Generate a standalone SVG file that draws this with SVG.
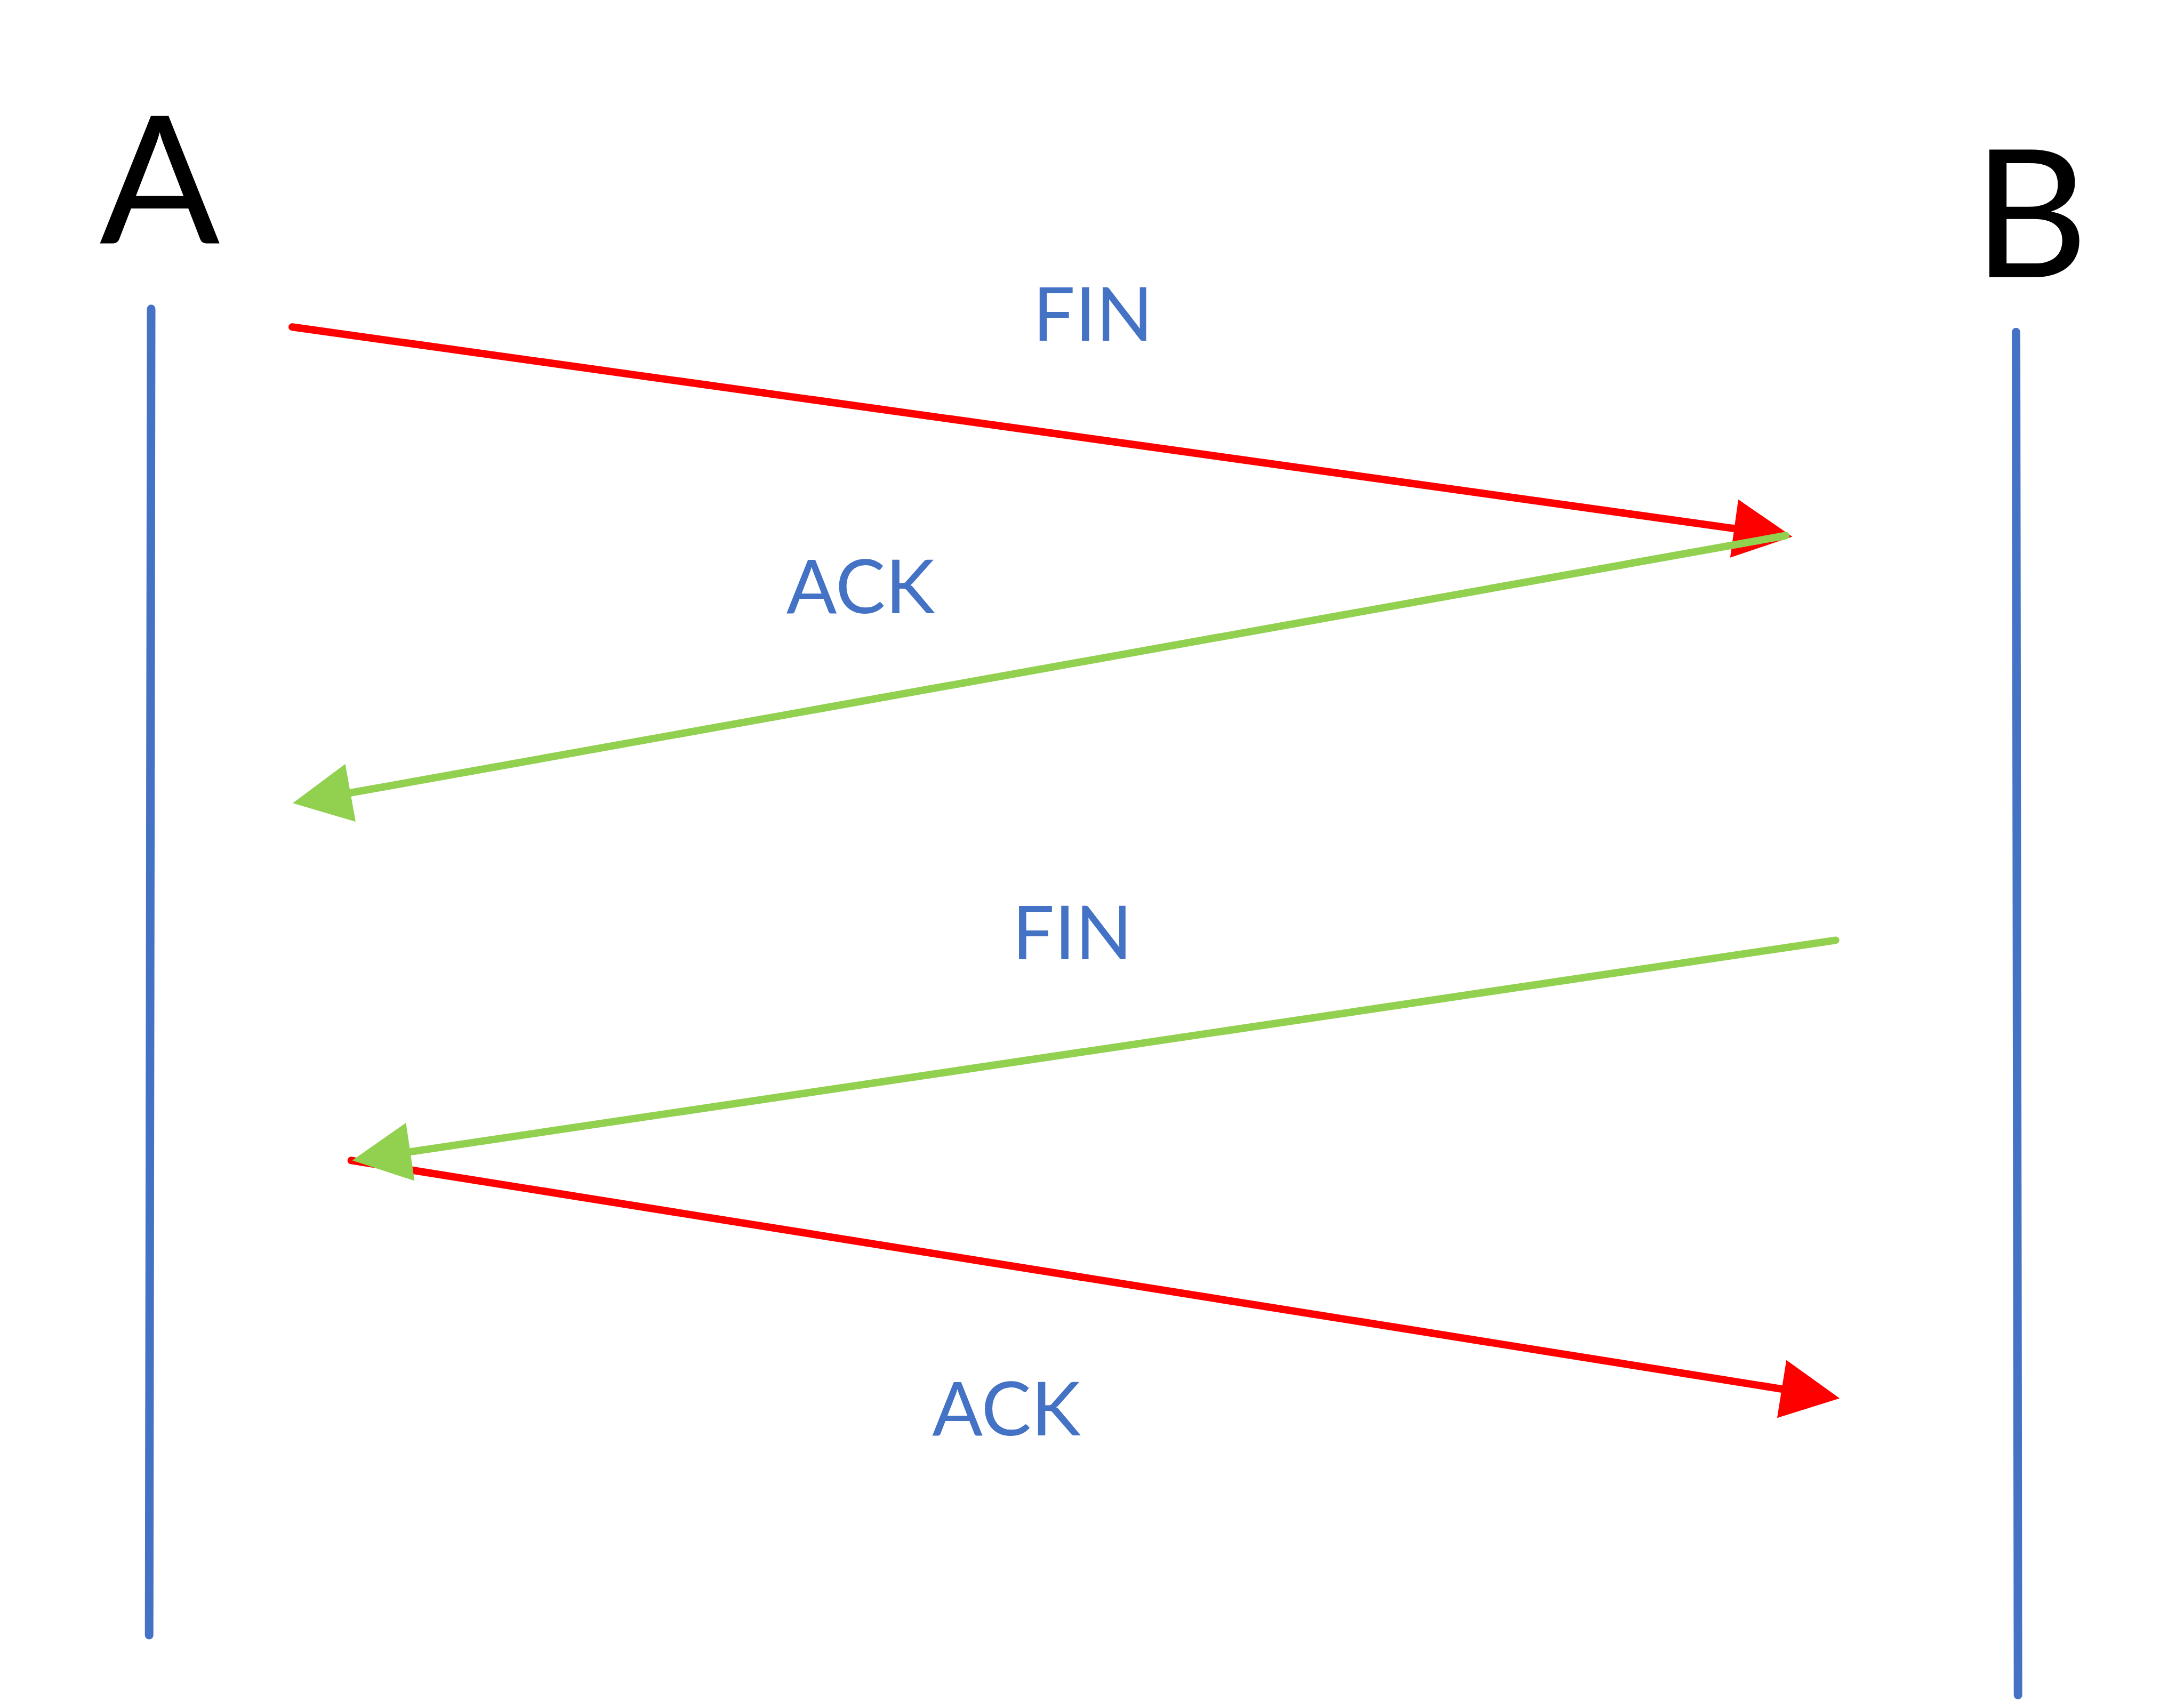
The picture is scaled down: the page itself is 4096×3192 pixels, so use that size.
<svg xmlns="http://www.w3.org/2000/svg" width="4096" height="3192" viewBox="0 0 4096 3192">
  <style>
    .life { stroke: #4472C4; stroke-width: 16; stroke-linecap: round; fill: none; }
    .msg { stroke-width: 14; stroke-linecap: round; fill: none; }
    .red { stroke: #FF0000; }
    .green { stroke: #92D050; }
    .title { font-family: Lato, "Open Sans", "Liberation Sans", sans-serif; font-size: 334px; fill: #000000; text-anchor: middle; }
    .lbl { font-family: Lato, "Open Sans", "Liberation Sans", sans-serif; font-size: 140px; fill: #4472C4; text-anchor: middle; }
  </style>
  <defs>
    <marker id="arrRed" markerUnits="userSpaceOnUse" markerWidth="120" markerHeight="120" refX="10" refY="55" orient="auto" overflow="visible">
      <path d="M0,0 L110,55 L0,110 z" fill="#FF0000"/>
    </marker>
    <marker id="arrGreen" markerUnits="userSpaceOnUse" markerWidth="120" markerHeight="120" refX="10" refY="55" orient="auto" overflow="visible">
      <path d="M0,0 L110,55 L0,110 z" fill="#92D050"/>
    </marker>
  </defs>
  <rect x="0" y="0" width="4096" height="3192" fill="#FFFFFF"/>

  <g id="nodeA">
    <text class="title" x="299.6" y="456.4">A</text>
    <line class="life" x1="283.5" y1="579.3" x2="279.7" y2="3066.5"/>
  </g>
  <g id="nodeB">
    <text class="title" x="3808.4" y="519.8">B</text>
    <line class="life" x1="3781" y1="622.8" x2="3784.7" y2="3179"/>
  </g>

  <g id="connectors">
    <line id="fin1" class="msg red" x1="548.1" y1="613.3" x2="3262.4" y2="992.6" marker-end="url(#arrRed)"/>
    <line id="ack2" class="msg red" x1="658.7" y1="2176.3" x2="3351.5" y2="2606.6" marker-end="url(#arrRed)"/>
    <line id="ack1" class="msg green" x1="3349.1" y1="1004.5" x2="647.4" y2="1488.7" marker-end="url(#arrGreen)"/>
    <line id="fin2" class="msg green" x1="3442.6" y1="1763.4" x2="759.5" y2="2161.6" marker-end="url(#arrGreen)"/>
  </g>

  <g id="labels">
    <text class="lbl" x="2049.7" y="638.8">FIN</text>
    <text class="lbl" x="1614.1" y="1150.1">ACK</text>
    <text class="lbl" x="2011" y="1799.3">FIN</text>
    <text class="lbl" x="1887.6" y="2692.3">ACK</text>
  </g>
</svg>
